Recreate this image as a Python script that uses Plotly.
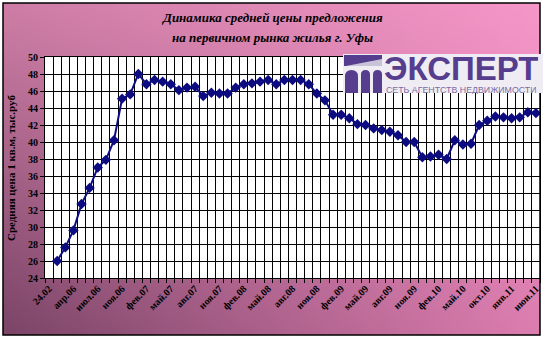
import zlib, struct, base64
import plotly.graph_objects as go

# ---------------- data ----------------
tick_labels = ["24.02", "апр.06", "июл.06", "ноя.06", "фев.07", "май.07", "авг.07",
               "ноя.07", "фев.08", "май.08", "авг.08", "ноя.08", "фев.09", "май.09",
               "авг.09", "ноя.09", "фев.10", "май.10", "окт.10", "янв.11", "июн.11"]
values = [None, 26.0, 27.6, 29.6, 32.7, 34.6, 37.0, 37.9, 40.2, 45.1, 45.6,
          48.0, 46.8, 47.3, 47.1, 46.8, 46.1, 46.4, 46.5, 45.4, 45.8,
          45.7, 45.7, 46.4, 46.8, 46.9, 47.1, 47.3, 46.8, 47.3, 47.3,
          47.3, 46.8, 45.7, 44.9, 43.2, 43.2, 42.8, 42.1, 42.0, 41.6,
          41.4, 41.2, 40.8, 40.0, 40.0, 38.2, 38.3, 38.5, 38.0, 40.2,
          39.7, 39.8, 42.0, 42.5, 43.0, 42.9, 42.8, 42.9, 43.5, 43.4]
label_step = 3
title_lines = ["Динамика средней цены предложения", "на первичном рынка жилья г. Уфы"]
y_title = "Средняя цена 1 кв.м, тыс.руб"

# ---------------- geometry helpers ----------------
W, H = 543, 340
ML, MR, MT, MB = 45, 3, 57, 62
PW, PH = W - ML - MR, H - MT - MB

def px(x):
    return (x - ML) / PW

def py(y):
    return (H - MB - y) / PH

# ---------------- gradient background (png) ----------------
def make_png(w, h, rows):
    raw = b"".join(b"\x00" + bytes(r) for r in rows)
    def chunk(t, d):
        return struct.pack(">I", len(d)) + t + d + struct.pack(">I", zlib.crc32(t + d) & 0xffffffff)
    return (b"\x89PNG\r\n\x1a\n" + chunk(b"IHDR", struct.pack(">IIBBBBB", w, h, 8, 2, 0, 0, 0))
            + chunk(b"IDAT", zlib.compress(raw)) + chunk(b"IEND", b""))

TL, TR, BL, BR = (205, 125, 165), (245, 150, 200), (125, 70, 105), (220, 125, 175)
gw, gh = 40, 25
rows = []
for j in range(gh):
    v = j / (gh - 1)
    row = []
    for i in range(gw):
        u = i / (gw - 1)
        for c in range(3):
            top = TL[c] * (1 - u) + TR[c] * u
            bot = BL[c] * (1 - u) + BR[c] * u
            row.append(int(round(top * (1 - v) + bot * v)))
    rows.append(row)
bg_src = "data:image/png;base64," + base64.b64encode(make_png(gw, gh, rows)).decode()

# ---------------- figure ----------------
x = list(range(len(values)))
serif = "Liberation Serif"
navy = "#0c0c80"

fig = go.Figure(go.Scatter(
    x=x, y=values, mode="lines+markers",
    line=dict(color=navy, width=2),
    marker=dict(symbol="diamond", size=8, color=navy),
    connectgaps=False, hoverinfo="x+y"))

fig.update_layout(
    width=W, height=H,
    margin=dict(l=ML, r=MR, t=MT, b=MB, pad=0),
    paper_bgcolor="white", plot_bgcolor="white",
    showlegend=False,
    images=[dict(source=bg_src, xref="paper", yref="paper",
                 x=px(3), y=py(3), sizex=px(540) - px(3), sizey=py(3) - py(335),
                 xanchor="left", yanchor="top", sizing="stretch", layer="below")],
)

fig.update_xaxes(
    range=[-0.5, len(values) - 0.5],
    tickmode="array", tickvals=list(range(0, len(values), label_step)), ticktext=tick_labels,
    tickangle=-45, ticks="", showgrid=False, zeroline=False,
    tickfont=dict(family=serif, size=10, color="black", weight="bold"),
    showline=True, linecolor="black", linewidth=1, mirror=True,
    minor=dict(tickmode="linear", tick0=-0.5, dtick=1, showgrid=True,
               gridcolor="black", gridwidth=1, ticks="outside", ticklen=4,
               tickcolor="black", tickwidth=1),
)
fig.update_yaxes(
    range=[24, 50], dtick=2, tick0=24, showgrid=True, gridcolor="black", gridwidth=1,
    ticks="outside", ticklen=4, tickcolor="black", zeroline=False,
    tickfont=dict(family=serif, size=10, color="black", weight="bold"),
    showline=True, linecolor="black", linewidth=1, mirror=True,
)

ann = []
ann.append(dict(text="<b><i>" + title_lines[0] + "</i></b>", xref="paper", yref="paper",
                x=px(272), y=py(18), showarrow=False, xanchor="center", yanchor="middle",
                font=dict(family=serif, size=13, color="black")))
ann.append(dict(text="<b><i>" + title_lines[1] + "</i></b>", xref="paper", yref="paper",
                x=px(272), y=py(37), showarrow=False, xanchor="center", yanchor="middle",
                font=dict(family=serif, size=13, color="black")))
ann.append(dict(text="<b>" + y_title + "</b>", xref="paper", yref="paper",
                x=px(11), y=py(168), showarrow=False, textangle=-90,
                xanchor="center", yanchor="middle",
                font=dict(family=serif, size=11, color="black")))

# logo
purple = "#563d8e"
ann.append(dict(text="<b>ЭКСПЕРТ</b>", xref="paper", yref="paper",
                x=px(383), y=py(68), showarrow=False, xanchor="left", yanchor="middle",
                height=28, borderpad=0,
                font=dict(family="Liberation Sans", size=33, color=purple)))
ann.append(dict(text="СЕТЬ АГЕНТСТВ НЕДВИЖИМОСТИ", xref="paper", yref="paper",
                x=px(385), y=py(89.5), showarrow=False, xanchor="left", yanchor="middle",
                height=8, borderpad=0,
                font=dict(family="Liberation Sans", size=8.8, color="#7a6ca4")))
fig.update_layout(annotations=ann)

def path(points, close=True):
    s = "M " + " L ".join(f"{px(a):.5f},{py(b):.5f}" for a, b in points)
    return s + (" Z" if close else "")

def arch(x0, x1, top, bottom):
    r = (x1 - x0) / 2
    xm = (x0 + x1) / 2
    return (f"M {px(x0):.5f},{py(bottom):.5f} L {px(x0):.5f},{py(top + r):.5f} "
            f"Q {px(x0):.5f},{py(top):.5f} {px(xm):.5f},{py(top):.5f} "
            f"Q {px(x1):.5f},{py(top):.5f} {px(x1):.5f},{py(top + r):.5f} "
            f"L {px(x1):.5f},{py(bottom):.5f} Z")

shapes = []
# white plot area above the gradient image
shapes.append(dict(type="rect", xref="paper", yref="paper", x0=0, x1=1, y0=0, y1=1,
                   line=dict(width=0), fillcolor="white", layer="below"))
# outer frame
shapes.append(dict(type="rect", xref="paper", yref="paper", x0=px(3), x1=px(540),
                   y0=py(335), y1=py(3), line=dict(color="black", width=1.5),
                   fillcolor="rgba(0,0,0,0)", layer="above"))
# logo box
shapes.append(dict(type="rect", xref="paper", yref="paper", x0=px(343), x1=px(543),
                   y0=py(93), y1=py(54), line=dict(width=0), fillcolor="#efedf3", layer="above"))
shapes.append(dict(type="path", xref="paper", yref="paper",
                   path=path([(344, 55), (382, 55), (382, 66), (344, 66)]),
                   line=dict(width=0), fillcolor=purple, layer="above"))
shapes.append(dict(type="path", xref="paper", yref="paper",
                   path=path([(346, 66), (382, 59), (382, 66)]),
                   line=dict(width=0), fillcolor="#c9c3d8", layer="above"))
for a0, a1 in [(345, 358), (361, 370), (373, 382)]:
    shapes.append(dict(type="path", xref="paper", yref="paper", path=arch(a0, a1, 70, 93),
                       line=dict(width=0), fillcolor=purple, layer="above"))
fig.update_layout(shapes=shapes)

fig.write_html("out.html")
